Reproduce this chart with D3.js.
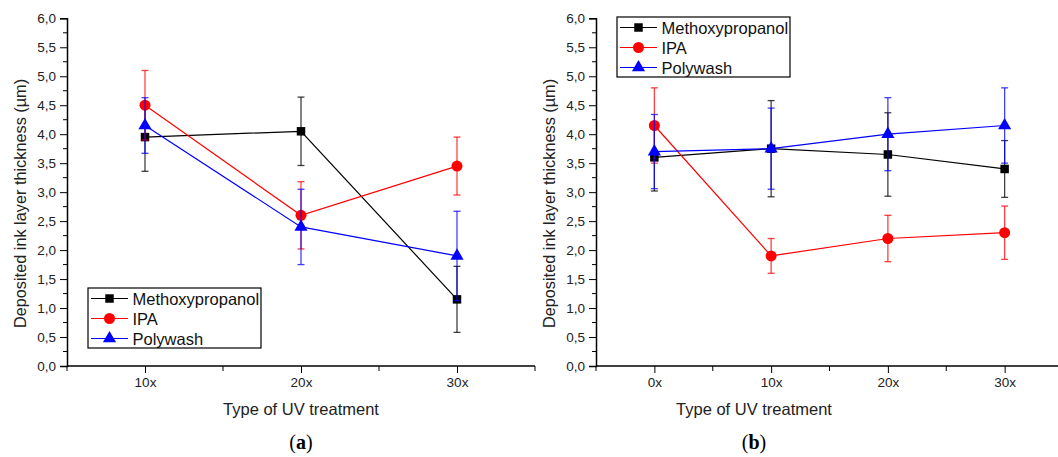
<!DOCTYPE html>
<html>
<head>
<meta charset="utf-8">
<script src="https://cdn.jsdelivr.net/npm/d3@7"></script>
<style>
  body { margin: 0; background: #fff; }
  text { font-family: "Liberation Sans", Arial, sans-serif; }
</style>
</head>
<body>
<div id="chart"></div>
<script>
// data
let seriesNames = ["Methoxypropanol", "IPA", "Polywash"];
let colors = ["#000000", "#ff0000", "#0000ff"];
let symbols = ["square", "circle", "triangle"];

let catsA = ["10x", "20x", "30x"];
let methA = [3.95, 4.05, 1.15];
let methErrA = [0.59, 0.59, 0.57];
let ipaA = [4.5, 2.6, 3.45];
let ipaErrA = [0.6, 0.58, 0.5];
let polyA = [4.15, 2.4, 1.9];
let polyErrA = [0.48, 0.65, 0.77];

let catsB = ["0x", "10x", "20x", "30x"];
let methB = [3.6, 3.75, 3.65, 3.4];
let methErrB = [0.58, 0.83, 0.72, 0.49];
let ipaB = [4.15, 1.9, 2.2, 2.3];
let ipaErrB = [0.65, 0.3, 0.4, 0.46];
let polyB = [3.7, 3.75, 4.0, 4.15];
let polyErrB = [0.64, 0.7, 0.63, 0.65];

let yTicks = [0, 0.5, 1, 1.5, 2, 2.5, 3, 3.5, 4, 4.5, 5, 5.5, 6];

let svg = d3.select("#chart")
    .append("svg")
    .attr("width", 1058)
    .attr("height", 457);

function drawPanel(opt) {
    let cats = opt.cats;
    let x = d3.scaleLinear()
        .domain([0, cats.length])
        .range([opt.left, opt.right]);
    let y = d3.scaleLinear()
        .domain([0, 6])
        .range([366, 18.3]);

    let g = svg.append("g");

    // y axis
    let yAxis = d3.axisLeft(y)
        .tickValues(yTicks)
        .tickFormat(d => d3.format(".1f")(d).replace(".", ","))
        .tickSize(7)
        .tickPadding(4);
    let yg = g.append("g")
        .attr("transform", `translate(${opt.left},0)`)
        .call(yAxis);
    yg.select(".domain").attr("stroke-width", 1.5);
    yg.selectAll("text").attr("font-size", "13.5px").attr("fill", "#222");

    // y minor ticks
    g.append("g").selectAll("line")
        .data(d3.range(0.25, 6, 0.5))
        .enter()
        .append("line")
        .attr("x1", opt.left - 4)
        .attr("x2", opt.left)
        .attr("y1", d => y(d))
        .attr("y2", d => y(d))
        .attr("stroke", "#000");

    // x axis
    let xAxis = d3.axisBottom(x)
        .tickValues(cats.map((c, i) => i + 0.5))
        .tickFormat((d, i) => cats[i])
        .tickSize(7)
        .tickPadding(4);
    let xg = g.append("g")
        .attr("transform", `translate(0,366)`)
        .call(xAxis);
    xg.select(".domain").attr("stroke-width", 1.5).attr("d", `M${opt.left},0H${opt.right}`);
    xg.selectAll("text").attr("font-size", "13.5px").attr("fill", "#222");

    // x minor ticks
    g.append("g").selectAll("line")
        .data(d3.range(0, cats.length + 1))
        .enter()
        .append("line")
        .attr("x1", d => x(d))
        .attr("x2", d => x(d))
        .attr("y1", 366)
        .attr("y2", 371)
        .attr("stroke", "#000");

    // series
    opt.series.forEach(function (s, k) {
        let pts = s.vals.map((v, i) => ({ x: x(i + 0.5), v: v, e: s.errs[i] }));
        let col = colors[k];

        let eg = g.append("g").attr("stroke", col).attr("stroke-opacity", 0.75).attr("stroke-width", 1.3);
        pts.forEach(function (p) {
            eg.append("line").attr("x1", p.x).attr("x2", p.x).attr("y1", y(p.v - p.e)).attr("y2", y(p.v + p.e));
            eg.append("line").attr("x1", p.x - 3.5).attr("x2", p.x + 3.5).attr("y1", y(p.v - p.e)).attr("y2", y(p.v - p.e));
            eg.append("line").attr("x1", p.x - 3.5).attr("x2", p.x + 3.5).attr("y1", y(p.v + p.e)).attr("y2", y(p.v + p.e));
        });

        g.append("path")
            .datum(pts)
            .attr("fill", "none")
            .attr("stroke", col)
            .attr("stroke-width", 1.2)
            .attr("d", d3.line().x(d => d.x).y(d => y(d.v)));

        g.selectAll(null)
            .data(pts)
            .enter()
            .append("path")
            .attr("transform", d => `translate(${d.x},${y(d.v)})`)
            .attr("d", markerPath(symbols[k]))
            .attr("fill", col);
    });

    // axis titles
    g.append("text")
        .attr("transform", `translate(${opt.left - 41},203.5) rotate(-90)`)
        .attr("text-anchor", "middle")
        .attr("font-size", "16.3px")
        .attr("fill", "#222")
        .text("Deposited ink layer thickness (\u00b5m)");

    g.append("text")
        .attr("x", opt.titleX)
        .attr("y", 415)
        .attr("text-anchor", "middle")
        .attr("font-size", "16.5px")
        .attr("fill", "#222")
        .text("Type of UV treatment");

    let lab = g.append("text")
        .attr("x", opt.titleX)
        .attr("y", 449)
        .attr("text-anchor", "middle")
        .attr("font-size", "20px")
        .style("font-family", "'Liberation Serif', 'DejaVu Serif', serif");
    lab.append("tspan").text("(");
    lab.append("tspan").attr("font-weight", "bold").text(opt.label);
    lab.append("tspan").text(")");

    // legend
    let lg = g.append("g").attr("transform", `translate(${opt.legX},${opt.legY})`);
    lg.append("rect")
        .attr("width", opt.legW)
        .attr("height", 60)
        .attr("fill", "#fff")
        .attr("stroke", "#000")
        .attr("stroke-width", 1.2);
    seriesNames.forEach(function (name, k) {
        let yy = 10.5 + k * 20;
        lg.append("line").attr("x1", 3).attr("x2", 40).attr("y1", yy).attr("y2", yy).attr("stroke", colors[k]).attr("stroke-width", 1.2);
        lg.append("path").attr("transform", `translate(21.5,${yy})`).attr("d", markerPath(symbols[k])).attr("fill", colors[k]);
        lg.append("text").attr("x", 44.5).attr("y", yy + 6).attr("font-size", "16.5px").attr("fill", "#111").text(name);
    });
}

function markerPath(sym) {
    if (sym === "square") return d3.symbol(d3.symbolSquare, 72)();
    if (sym === "circle") return d3.symbol(d3.symbolCircle, 95)();
    return d3.symbol(d3.symbolTriangle, 75)();
}

drawPanel({
    cats: catsA, left: 67, right: 535, titleX: 301, label: "a",
    legX: 88, legY: 288, legW: 173,
    series: [
        { vals: methA, errs: methErrA },
        { vals: ipaA, errs: ipaErrA },
        { vals: polyA, errs: polyErrA }
    ]
});

drawPanel({
    cats: catsB, left: 596, right: 1063, titleX: 754, label: "b",
    legX: 617, legY: 17, legW: 173,
    series: [
        { vals: methB, errs: methErrB },
        { vals: ipaB, errs: ipaErrB },
        { vals: polyB, errs: polyErrB }
    ]
});
</script>
</body>
</html>
